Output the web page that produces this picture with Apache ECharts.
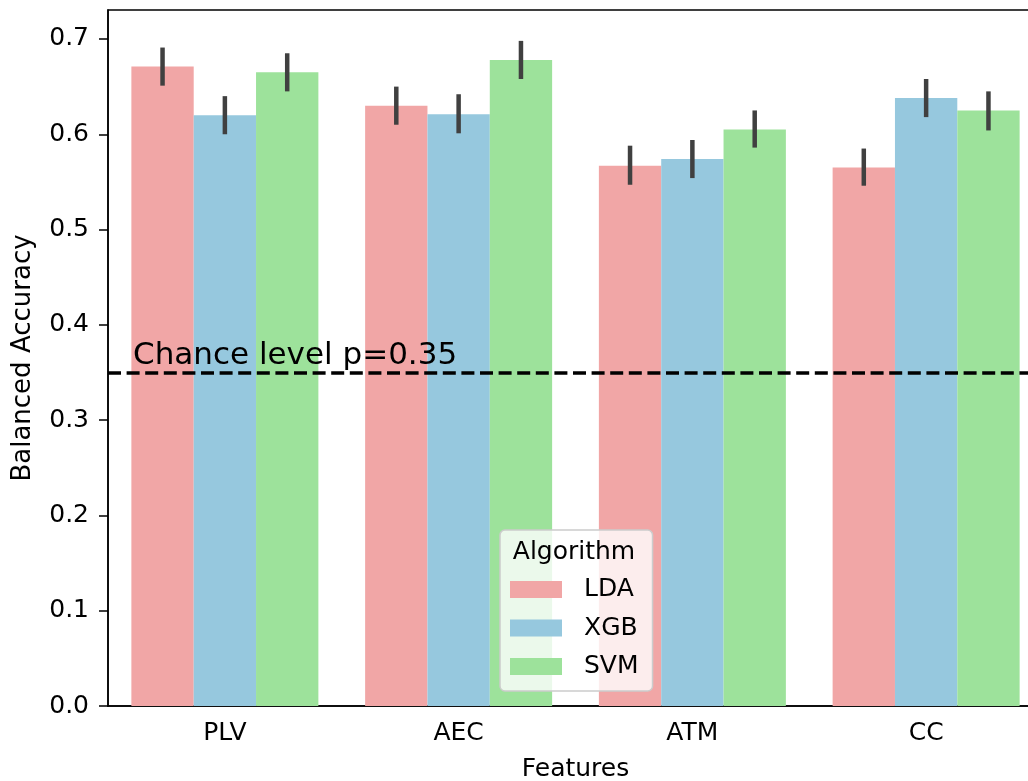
<!DOCTYPE html>
<html>
<head>
<meta charset="utf-8">
<script src="https://cdn.jsdelivr.net/npm/echarts@6/dist/echarts.min.js"></script>
<style>
  html, body { margin: 0; padding: 0; background: #fff; overflow: hidden; }
  #chart { width: 1028px; height: 781px; }
</style>
</head>
<body>
<div id="chart"></div>
<script>
// data
var categories = ['PLV', 'AEC', 'ATM', 'CC'];
var algorithms = ['LDA', 'XGB', 'SVM'];
var ldaMean = [0.671, 0.630, 0.567, 0.565];
var xgbMean = [0.620, 0.621, 0.574, 0.638];
var svmMean = [0.665, 0.678, 0.605, 0.625];
var ldaLow  = [0.651, 0.610, 0.547, 0.546];
var ldaHigh = [0.691, 0.650, 0.588, 0.585];
var xgbLow  = [0.600, 0.601, 0.554, 0.618];
var xgbHigh = [0.640, 0.642, 0.594, 0.658];
var svmLow  = [0.645, 0.658, 0.586, 0.604];
var svmHigh = [0.685, 0.698, 0.625, 0.645];
var chanceLevel = 0.35;
var chanceText = 'Chance level p=0.35';

var colors = ['#f1a6a6', '#96c8de', '#9de29b'];
var font = 'DejaVu Sans';

var means = [ldaMean, xgbMean, svmMean];
var lows = [ldaLow, xgbLow, svmLow];
var highs = [ldaHigh, xgbHigh, svmHigh];

// error bar drawn at the centre of bar idx inside each category
function errRenderer(idx) {
    return function (params, api) {
        var x = api.value(0);
        var lo = api.coord([x, api.value(1)]);
        var hi = api.coord([x, api.value(2)]);
        var band = api.size([1, 0])[0];
        var off = (idx - 1) * band * 0.8 / 3;
        return {
            type: 'line',
            shape: { x1: lo[0] + off, y1: lo[1], x2: hi[0] + off, y2: hi[1] },
            style: { stroke: '#404040', lineWidth: 4.5 }
        };
    };
}

var series = [];
algorithms.forEach(function (name, i) {
    var s = {
        name: name,
        type: 'bar',
        data: means[i],
        barGap: '0%',
        barCategoryGap: '20%',
        itemStyle: { color: colors[i] },
        z: 2
    };
    if (i === 0) {
        s.markLine = {
            silent: true,
            symbol: 'none',
            z: 5,
            data: [{ yAxis: chanceLevel }],
            lineStyle: { color: '#000', type: [13, 5.6], width: 3.5 },
            label: {
                show: true,
                position: 'insideStartTop',
                formatter: chanceText,
                fontFamily: font,
                fontSize: 31,
                color: '#000',
                padding: [0, 0, 0, 24],
                distance: 1
            }
        };
    }
    series.push(s);
});
algorithms.forEach(function (name, i) {
    series.push({
        type: 'custom',
        renderItem: errRenderer(i),
        data: categories.map(function (c, j) { return [j, lows[i][j], highs[i][j]]; }),
        z: 3,
        silent: true
    });
});

var chart = echarts.init(document.getElementById('chart'));
var option = {
    animation: false,
    backgroundColor: '#fff',
    textStyle: { fontFamily: font },
    grid: {
        left: 108, right: -15, top: 10, bottom: 75,
        outerBoundsMode: 'none',
        containLabel: false,
        show: true, borderColor: '#000', borderWidth: 1.5
    },
    legend: {
        data: algorithms,
        orient: 'vertical',
        left: 500,
        top: 530,
        padding: [47, 14, 12, 10],
        itemWidth: 52,
        itemHeight: 17,
        itemGap: 13.5,
        icon: 'rect',
        backgroundColor: 'rgba(255,255,255,0.8)',
        borderColor: '#cccccc',
        borderWidth: 1.5,
        borderRadius: 5,
        z: 20,
        textStyle: { fontFamily: font, fontSize: 25, color: '#000', padding: [0, 0, 0, 17] }
    },
    graphic: [{
        type: 'text',
        x: 574,
        y: 552,
        z: 100,
        style: {
            text: 'Algorithm',
            fontFamily: font,
            fontSize: 25,
            fill: '#000',
            textAlign: 'center',
            textVerticalAlign: 'middle'
        }
    }],
    xAxis: {
        type: 'category',
        data: categories,
        name: 'Features',
        nameLocation: 'middle',
        nameGap: 51,
        nameTextStyle: { fontFamily: font, fontSize: 25, color: '#000' },
        axisLine: { lineStyle: { color: '#000', width: 1.5 } },
        axisTick: { alignWithLabel: true, length: 9, lineStyle: { color: '#000', width: 1.5 } },
        axisLabel: { fontFamily: font, fontSize: 25, color: '#000', margin: 15 }
    },
    yAxis: {
        type: 'value',
        min: 0,
        max: 0.7304,
        interval: 0.1,
        name: 'Balanced Accuracy',
        nameLocation: 'middle',
        nameGap: 72,
        nameTextStyle: { fontFamily: font, fontSize: 26, color: '#000' },
        splitLine: { show: false },
        axisLine: { show: true, lineStyle: { color: '#000', width: 1.5 } },
        axisTick: { show: true, length: 9, lineStyle: { color: '#000', width: 1.5 } },
        axisLabel: {
            fontFamily: font, fontSize: 25, color: '#000', margin: 19,
            formatter: function (v) { return v.toFixed(1); },
            showMaxLabel: false
        }
    },
    series: series
};
chart.setOption(option);
window.addEventListener('resize', chart.resize);
</script>
</body>
</html>
